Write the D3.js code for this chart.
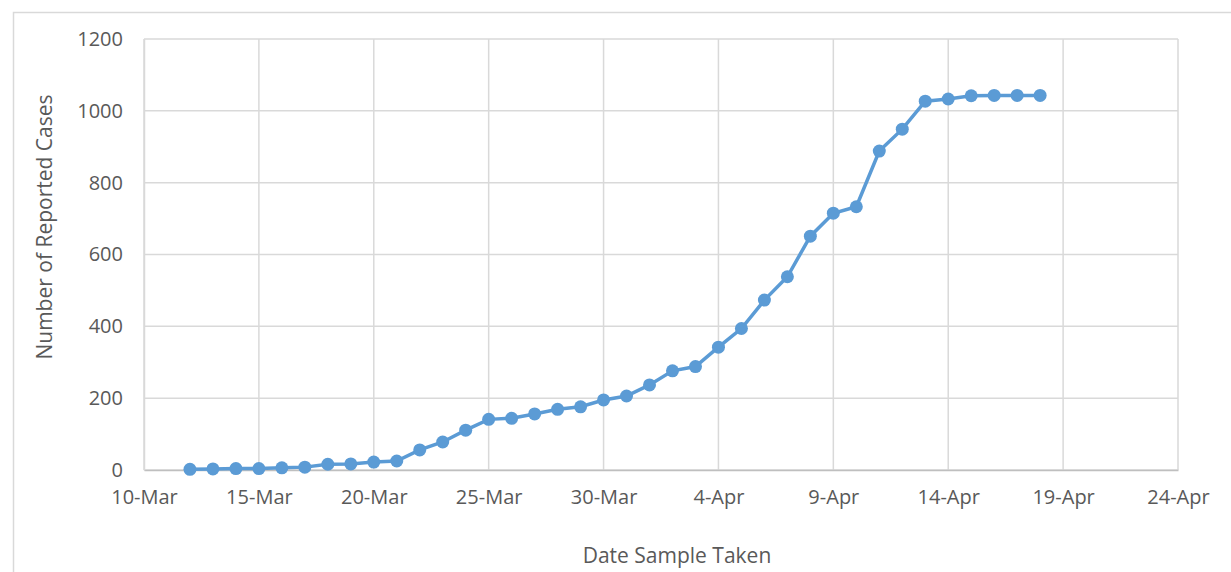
<!DOCTYPE html>
<html>
<head>
<meta charset="utf-8">
<script src="https://cdn.jsdelivr.net/npm/d3@7"></script>
<style>
  body { margin: 0; background: #fff; }
  svg { display: block; }
  .tick text { font-family: "Open Sans", sans-serif; fill: #595959; }
</style>
</head>
<body>
<div id="chart"></div>
<script>
// daily dates the samples were taken
const dates = [
    "2020-03-12", "2020-03-13", "2020-03-14", "2020-03-15", "2020-03-16", "2020-03-17",
    "2020-03-18", "2020-03-19", "2020-03-20", "2020-03-21", "2020-03-22", "2020-03-23",
    "2020-03-24", "2020-03-25", "2020-03-26", "2020-03-27", "2020-03-28", "2020-03-29",
    "2020-03-30", "2020-03-31", "2020-04-01", "2020-04-02", "2020-04-03", "2020-04-04",
    "2020-04-05", "2020-04-06", "2020-04-07", "2020-04-08", "2020-04-09", "2020-04-10",
    "2020-04-11", "2020-04-12", "2020-04-13", "2020-04-14", "2020-04-15", "2020-04-16",
    "2020-04-17", "2020-04-18"
];

// cumulative number of reported cases
const cases = [
    2, 3, 4, 4, 6, 8,
    16, 17, 22, 25, 56, 78,
    111, 141, 144, 156, 169, 176,
    195, 206, 237, 276, 288, 342,
    394, 473, 538, 651, 715, 733,
    888, 949, 1027, 1033, 1042, 1043,
    1043, 1043
];

const xTicks = ["2020-03-10", "2020-03-15", "2020-03-20", "2020-03-25", "2020-03-30",
    "2020-04-04", "2020-04-09", "2020-04-14", "2020-04-19", "2020-04-24"];
const yTicks = [0, 200, 400, 600, 800, 1000, 1200];

const parseDate = d3.timeParse("%Y-%m-%d");
const data = dates.map((d, i) => ({date: parseDate(d), value: cases[i]}));

const width = 1231, height = 572;
const margin = {top: 39, right: 53, bottom: 102, left: 144};
const innerW = width - margin.left - margin.right;
const innerH = height - margin.top - margin.bottom;

const svg = d3.select("#chart").append("svg")
    .attr("width", width)
    .attr("height", height);

// outer chart border
svg.append("rect")
    .attr("x", 13.5)
    .attr("y", 12.5)
    .attr("width", 1240)
    .attr("height", 600)
    .attr("fill", "none")
    .attr("stroke", "#d9d9d9")
    .attr("stroke-width", 1.5);

const g = svg.append("g")
    .attr("transform", `translate(${margin.left},${margin.top})`);

const x = d3.scaleTime()
    .domain([parseDate(xTicks[0]), parseDate(xTicks[xTicks.length - 1])])
    .range([0, innerW]);

const y = d3.scaleLinear()
    .domain([0, 1200])
    .range([innerH, 0]);

// gridlines
g.append("g")
    .selectAll("line")
    .data(yTicks)
    .join("line")
    .attr("x1", 0)
    .attr("x2", innerW)
    .attr("y1", d => y(d))
    .attr("y2", d => y(d))
    .attr("stroke", "#d9d9d9")
    .attr("stroke-width", 1.5);

g.append("g")
    .selectAll("line")
    .data(xTicks.map(parseDate))
    .join("line")
    .attr("x1", d => x(d))
    .attr("x2", d => x(d))
    .attr("y1", 0)
    .attr("y2", innerH)
    .attr("stroke", "#d9d9d9")
    .attr("stroke-width", 1.5);

// x axis
const xAxis = d3.axisBottom(x)
    .tickValues(xTicks.map(parseDate))
    .tickFormat(d3.timeFormat("%-d-%b"))
    .tickSize(0)
    .tickPadding(20);

const gx = g.append("g")
    .attr("transform", `translate(0,${innerH})`)
    .call(xAxis);
gx.select(".domain").attr("stroke", "#bfbfbf").attr("stroke-width", 1.5);
gx.selectAll(".tick text").attr("font-size", 20);

// y axis
const yAxis = d3.axisLeft(y)
    .tickValues(yTicks)
    .tickFormat(d3.format("d"))
    .tickSize(0)
    .tickPadding(21);

const gy = g.append("g").call(yAxis);
gy.select(".domain").attr("stroke", "#d9d9d9").attr("stroke-width", 1.5);
gy.selectAll(".tick text").attr("font-size", 20);

// line
g.append("path")
    .datum(data)
    .attr("fill", "none")
    .attr("stroke", "#5b9bd5")
    .attr("stroke-width", 3.5)
    .attr("d", d3.line()
        .x(d => x(d.date))
        .y(d => y(d.value)));

// markers
g.selectAll("circle")
    .data(data)
    .join("circle")
    .attr("cx", d => x(d.date))
    .attr("cy", d => y(d.value))
    .attr("r", 6.5)
    .attr("fill", "#5b9bd5");

// axis titles
svg.append("text")
    .attr("x", 677)
    .attr("y", 563)
    .attr("text-anchor", "middle")
    .attr("font-family", "Open Sans, sans-serif")
    .attr("font-size", 21)
    .attr("fill", "#595959")
    .text("Date Sample Taken");

svg.append("text")
    .attr("transform", "translate(52,227) rotate(-90)")
    .attr("text-anchor", "middle")
    .attr("font-family", "Open Sans, sans-serif")
    .attr("font-size", 21)
    .attr("fill", "#595959")
    .text("Number of Reported Cases");
</script>
</body>
</html>
